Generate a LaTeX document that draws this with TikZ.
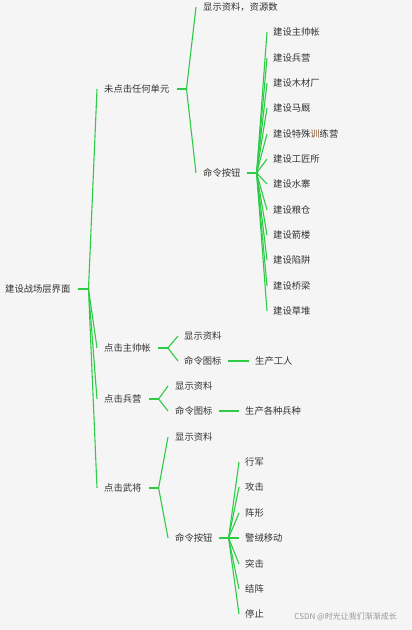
\documentclass[tikz,border=0pt]{standalone}
\usepackage{fontspec}
\setmainfont{Noto Sans CJK SC}
\newfontfamily\cjk{Noto Sans CJK SC}
\definecolor{br}{RGB}{46,204,70}
\definecolor{tx}{RGB}{51,51,51}
\definecolor{bgc}{RGB}{245,245,245}
\definecolor{wm}{RGB}{150,150,150}
\definecolor{hl}{RGB}{140,92,58}
\begin{document}
\begin{tikzpicture}[x=1pt,y=-1pt,
  txt/.style={anchor=west,inner sep=0pt,text=tx,font=\cjk\fontsize{9.3}{11}\selectfont},
  stub/.style={draw=br,line width=1.8pt},
  bline/.style={draw=br,line width=1.1pt}]
\fill[bgc] (0,0) rectangle (412,630);
\useasboundingbox (0,0) rectangle (412,630);
% nodes
\node[txt] (root) at (5,289) {建设战场层界面};
\node[txt] (a) at (104,89) {未点击任何单元};
\node[txt] (a1) at (203,7) {显示资料，资源数};
\node[txt] (a2) at (203,173) {命令按钮};
\node[txt] (c1) at (273,32) {建设主帅帐};
\node[txt] (c2) at (273,58) {建设兵营};
\node[txt] (c3) at (273,83) {建设木材厂};
\node[txt] (c4) at (273,108) {建设马厩};
\node[txt] (c5) at (273,134) {建设特殊{\color{hl}训}练营};
\node[txt] (c6) at (273,159) {建设工匠所};
\node[txt] (c7) at (273,184) {建设水寨};
\node[txt] (c8) at (273,210) {建设粮仓};
\node[txt] (c9) at (273,235) {建设箭楼};
\node[txt] (c10) at (273,260) {建设陷阱};
\node[txt] (c11) at (273,286) {建设桥梁};
\node[txt] (c12) at (273,311) {建设草堆};
\node[txt] (b) at (104,348) {点击主帅帐};
\node[txt] (b1) at (184,336) {显示资料};
\node[txt] (b2) at (184,361) {命令图标};
\node[txt] (b3) at (255,361) {生产工人};
\node[txt] (d) at (104,399) {点击兵营};
\node[txt] (d1) at (175,386) {显示资料};
\node[txt] (d2) at (175,411) {命令图标};
\node[txt] (d3) at (245,411) {生产各种兵种};
\node[txt] (e) at (104,488) {点击武将};
\node[txt] (e1) at (175,437) {显示资料};
\node[txt] (e2) at (175,538) {命令按钮};
\node[txt] (f1) at (245,462) {行军};
\node[txt] (f2) at (245,487) {攻击};
\node[txt] (f3) at (245,513) {阵形};
\node[txt] (f4) at (245,538) {警绒移动};
\node[txt] (f5) at (245,564) {突击};
\node[txt] (f6) at (245,589) {结阵};
\node[txt] (f7) at (245,614) {停止};
\node[anchor=east,inner sep=0pt,text=wm,font=\cjk\fontsize{8}{9}\selectfont] (wmk) at (397,617) {CSDN @时光让我们渐渐成长};
% connectors
\draw[stub] ([xshift=7pt]root.east) -- ++(11,0) coordinate (rj);
\foreach \c in {a,b,d,e} \draw[bline] (rj) -- ([xshift=-7pt]\c.west);
\draw[stub] ([xshift=7pt]a.east) -- ++(10,0) coordinate (aj);
\foreach \c in {a1,a2} \draw[bline] (aj) -- ([xshift=-7pt]\c.west);
\draw[stub] ([xshift=6pt]a2.east) -- ++(10,0) coordinate (a2j);
\foreach \c in {c1,c2,c3,c4,c5,c6,c7,c8,c9,c10,c11,c12} \draw[bline] (a2j) -- ([xshift=-6pt]\c.west);
\draw[stub] ([xshift=7pt]b.east) -- ++(10,0) coordinate (bj);
\foreach \c in {b1,b2} \draw[bline] (bj) -- ([xshift=-6pt]\c.west);
\draw[stub] ([xshift=6pt]b2.east) -- ([xshift=-6pt]b3.west);
\draw[stub] ([xshift=7pt]d.east) -- ++(10,0) coordinate (dj);
\foreach \c in {d1,d2} \draw[bline] (dj) -- ([xshift=-7pt]\c.west);
\draw[stub] ([xshift=6pt]d2.east) -- ([xshift=-6pt]d3.west);
\draw[stub] ([xshift=7pt]e.east) -- ++(10,0) coordinate (ej);
\foreach \c in {e1,e2} \draw[bline] (ej) -- ([xshift=-7pt]\c.west);
\draw[stub] ([xshift=6pt]e2.east) -- ++(10,0) coordinate (e2j);
\foreach \c in {f1,f2,f3,f4,f5,f6,f7} \draw[bline] (e2j) -- ([xshift=-6pt]\c.west);
\end{tikzpicture}
\end{document}
